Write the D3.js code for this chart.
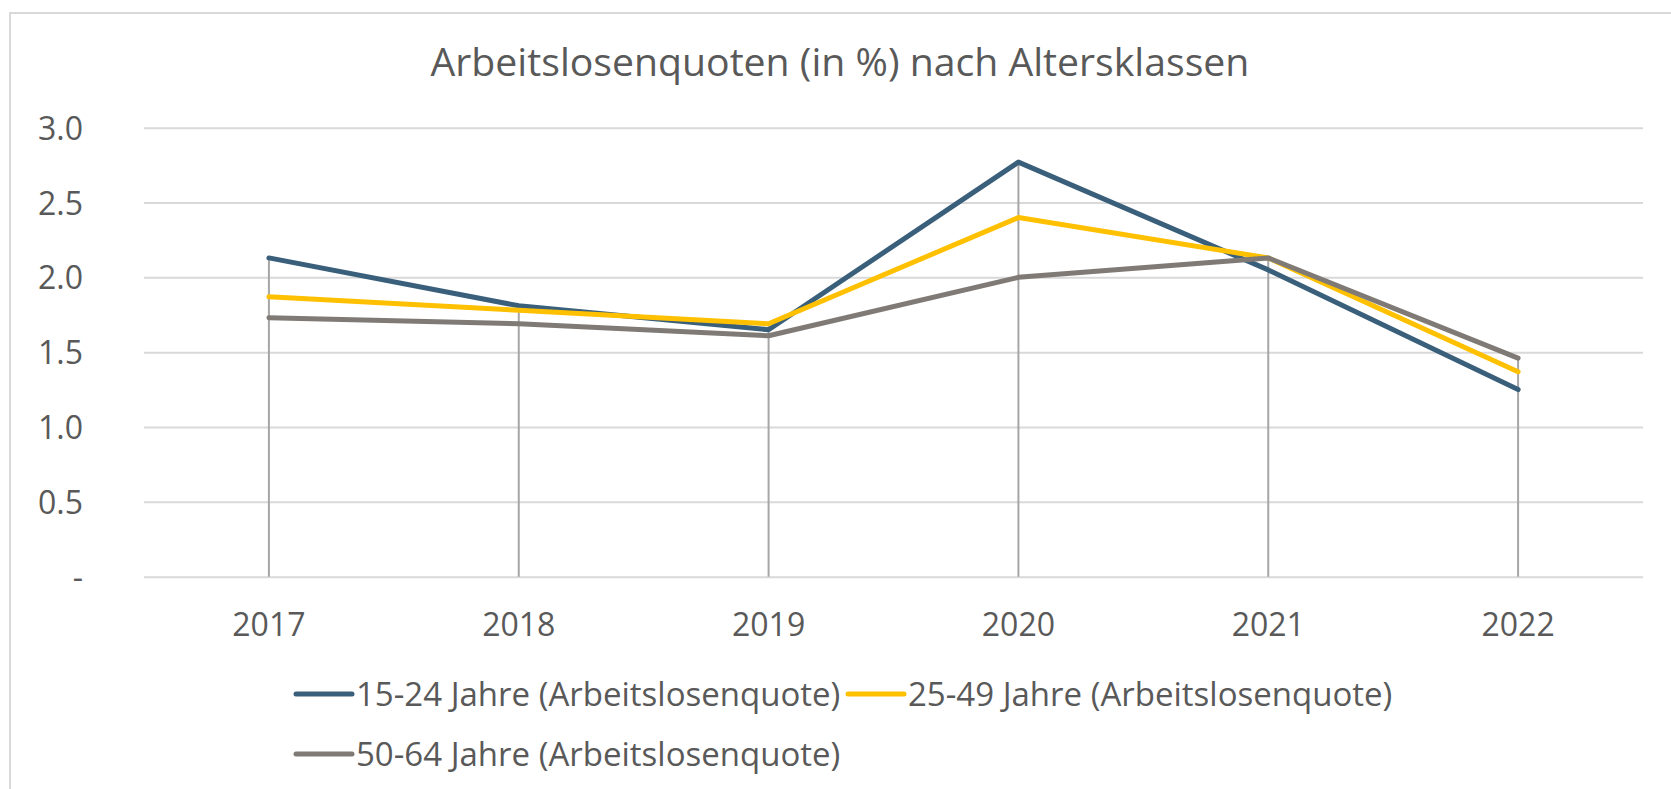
<!DOCTYPE html>
<html>
<head>
<meta charset="utf-8">
<script src="https://cdn.jsdelivr.net/npm/d3@7"></script>
<style>
  html, body { margin: 0; padding: 0; background: #fff; }
  svg { display: block; font-family: 'Open Sans', sans-serif; }
</style>
</head>
<body>
<div id="chart"></div>
<script>
'use strict';

// data
var years = ['2017', '2018', '2019', '2020', '2021', '2022'];
var age15to24 = [2.13, 1.81, 1.65, 2.77, 2.05, 1.25];
var age25to49 = [1.87, 1.78, 1.69, 2.40, 2.13, 1.37];
var age50to64 = [1.73, 1.69, 1.61, 2.00, 2.13, 1.46];
var seriesNames = [
  '15-24 Jahre (Arbeitslosenquote)',
  '25-49 Jahre (Arbeitslosenquote)',
  '50-64 Jahre (Arbeitslosenquote)'
];
var yTicks = [0, 0.5, 1, 1.5, 2, 2.5, 3];
var title = 'Arbeitslosenquoten (in %) nach Altersklassen';

var colors = ['#3a5f7b', '#ffc000', '#7f7a75'];
var textColor = '#595959';

var width = 1671, height = 789;
var plot = { left: 144, right: 1643, top: 127.7, bottom: 576.7 };

var svg = d3.select('#chart').append('svg')
  .attr('width', width)
  .attr('height', height);

// chart area frame
svg.append('rect')
  .attr('x', 10).attr('y', 13)
  .attr('width', 1700).attr('height', 800)
  .attr('fill', '#fff')
  .attr('stroke', '#d9d9d9')
  .attr('stroke-width', 2);

svg.append('text')
  .attr('x', 840).attr('y', 76)
  .attr('text-anchor', 'middle')
  .attr('font-size', 39.2)
  .attr('fill', textColor)
  .text(title);

var x = d3.scaleBand()
  .domain(years)
  .range([plot.left, plot.right]);

var y = d3.scaleLinear()
  .domain([0, 3])
  .range([plot.bottom, plot.top]);

// gridlines + y labels
var yAxis = svg.append('g')
  .attr('transform', 'translate(' + plot.left + ',0)')
  .call(d3.axisLeft(y)
    .tickValues(yTicks)
    .tickSize(-(plot.right - plot.left))
    .tickPadding(61)
    .tickFormat(function(d){ return d === 0 ? '-' : d3.format('.1f')(d); }));
yAxis.select('.domain').remove();
yAxis.selectAll('.tick line')
  .attr('stroke', '#d9d9d9')
  .attr('stroke-width', 2);
yAxis.selectAll('.tick text')
  .attr('fill', textColor)
  .attr('font-size', 32)
  .attr('font-family', "'Open Sans', sans-serif")
  .attr('dy', '0.36em');

// x labels
var xAxis = svg.append('g')
  .attr('transform', 'translate(0,' + plot.bottom + ')')
  .call(d3.axisBottom(x).tickSize(0).tickPadding(0));
xAxis.select('.domain').remove();
xAxis.selectAll('.tick text')
  .attr('fill', textColor)
  .attr('font-size', 32)
  .attr('font-family', "'Open Sans', sans-serif")
  .attr('dy', 0)
  .attr('y', 59);

var allSeries = [age15to24, age25to49, age50to64];
var cx = function(i){ return x(years[i]) + x.bandwidth() / 2; };

// drop lines from the highest point to the axis
svg.append('g').selectAll('line')
  .data(years)
  .enter()
  .append('line')
  .attr('x1', function(d, i){ return cx(i); })
  .attr('x2', function(d, i){ return cx(i); })
  .attr('y1', function(d, i){ return y(d3.max(allSeries, function(s){ return s[i]; })); })
  .attr('y2', y(0))
  .attr('stroke', '#a6a6a6')
  .attr('stroke-width', 2);

var line = d3.line()
  .x(function(d, i){ return cx(i); })
  .y(function(d){ return y(d); });

svg.append('g').selectAll('path')
  .data(allSeries)
  .enter()
  .append('path')
  .attr('d', line)
  .attr('fill', 'none')
  .attr('stroke', function(d, i){ return colors[i]; })
  .attr('stroke-width', 5)
  .attr('stroke-linejoin', 'round')
  .attr('stroke-linecap', 'round');

// legend
var legendPos = [
  { x: 296, y: 694 },
  { x: 848, y: 694 },
  { x: 296, y: 754 }
];
var legend = svg.append('g').selectAll('g')
  .data(seriesNames)
  .enter()
  .append('g')
  .attr('transform', function(d, i){ return 'translate(' + legendPos[i].x + ',' + legendPos[i].y + ')'; });
legend.append('line')
  .attr('x1', 0).attr('x2', 56)
  .attr('stroke', function(d, i){ return colors[i]; })
  .attr('stroke-width', 5)
  .attr('stroke-linecap', 'round');
legend.append('text')
  .attr('x', 60).attr('y', 12)
  .attr('font-size', 33)
  .attr('fill', textColor)
  .text(function(d){ return d; });
</script>
</body>
</html>
